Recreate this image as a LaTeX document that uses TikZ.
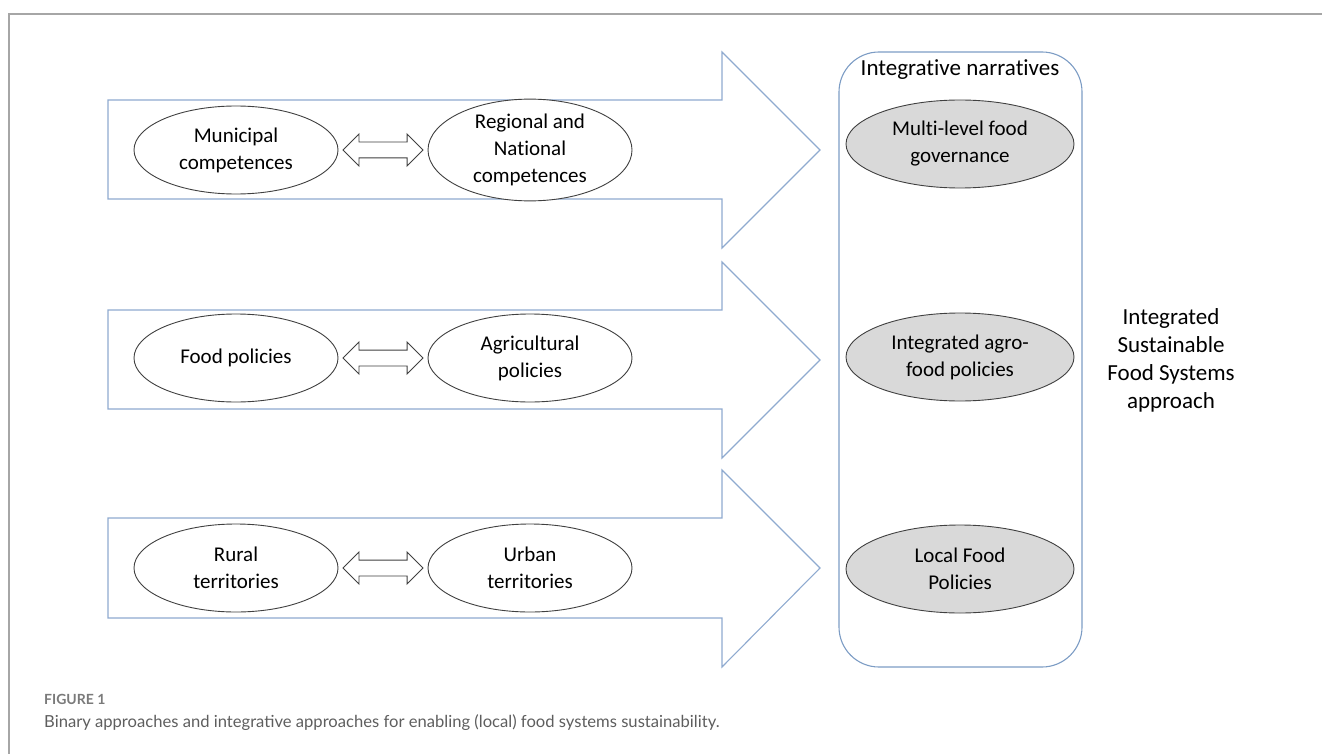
\documentclass[tikz,border=0pt]{standalone}
\usepackage{fontspec}
\setmainfont{Carlito}[Ligatures=NoCommon]
\newfontfamily\capfont{Lato}
\usetikzlibrary{shapes.arrows,shapes.geometric}
\definecolor{arrowblue}{HTML}{8FAAD0}
\definecolor{boxblue}{HTML}{7C9CC4}
\definecolor{ellgray}{HTML}{D9D9D9}
\definecolor{framegray}{HTML}{A6A6A6}
\definecolor{capgray}{HTML}{5E5E5E}
\definecolor{figgray}{HTML}{7A7A7A}
\definecolor{ellline}{HTML}{404040}
\begin{document}
\begin{tikzpicture}[x=1pt,y=-1pt,
  bigarrow/.style={draw=arrowblue, line width=1.1pt, fill=white, line join=miter},
  binell/.style={ellipse, draw=ellline, line width=0.9pt, fill=white, minimum width=204pt, minimum height=88pt, inner sep=0pt, align=center, font=\fontsize{21}{27}\selectfont},
  intell/.style={binell, fill=ellgray, minimum width=228pt, minimum height=88pt},
  dblarrow/.style={double arrow, draw=ellline, fill=white, line width=0.9pt, minimum height=80pt, minimum width=31pt, double arrow head extend=8pt, inner xsep=0pt, inner ysep=7.5pt},
]
\useasboundingbox (0,0) rectangle (1322,754);
% frame
\draw[framegray, line width=1.5pt] (1322,14) -- (9,14) -- (9,754);
% big arrows
\draw[bigarrow] (108,100) -- (722,100) -- (722,52) -- (820,150) -- (722,248) -- (722,199) -- (108,199) -- cycle;
\draw[bigarrow] (108,310) -- (722,310) -- (722,262) -- (820,360) -- (722,458) -- (722,409) -- (108,409) -- cycle;
\draw[bigarrow] (108,518) -- (722,518) -- (722,470) -- (820,568) -- (722,667) -- (722,618) -- (108,618) -- cycle;
% binary ellipses
\node[binell] (mun) at (236,150) {Municipal\\competences};
\node[binell] (reg) at (530,150) {Regional and\\National\\competences};
\node[dblarrow] (d1) at (383,150) {};
\node[binell] (fp) at (236,358) {Food policies};
\node[binell] (ap) at (530,358) {Agricultural\\policies};
\node[dblarrow] (d2) at (383,358) {};
\node[binell] (rur) at (236,568) {Rural\\territories};
\node[binell] (urb) at (530,568) {Urban\\territories};
\node[dblarrow] (d3) at (383,568) {};
% integrative box
\node[draw=boxblue, line width=1.1pt, rounded corners=40pt, minimum width=243pt, minimum height=615pt, inner sep=0pt] (box) at (960.5,359.5) {};
\node[font=\fontsize{23}{27}\selectfont] (hdr) at (960,70) {Integrative narratives};
\node[intell] (mlg) at (960,144) {Multi-level food\\governance};
\node[intell] (iap) at (960,357) {Integrated agro-\\food policies};
\node[intell] (lfp) at (960,569) {Local Food\\Policies};
% right label
\node[align=center, font=\fontsize{23}{28}\selectfont] (isfs) at (1171,360) {Integrated\\Sustainable\\Food Systems\\approach};
% caption
\node[anchor=base west, inner sep=0pt, font=\capfont\bfseries\fontsize{14}{16}\selectfont, text=figgray] (fig) at (44,704) {FIGURE 1};
\node[anchor=base west, inner sep=0pt, font=\capfont\fontsize{16.6}{19}\selectfont, text=capgray] (cap) at (44,727) {Binary approaches and integrative approaches for enabling (local) food systems sustainability.};
\end{tikzpicture}
\end{document}
